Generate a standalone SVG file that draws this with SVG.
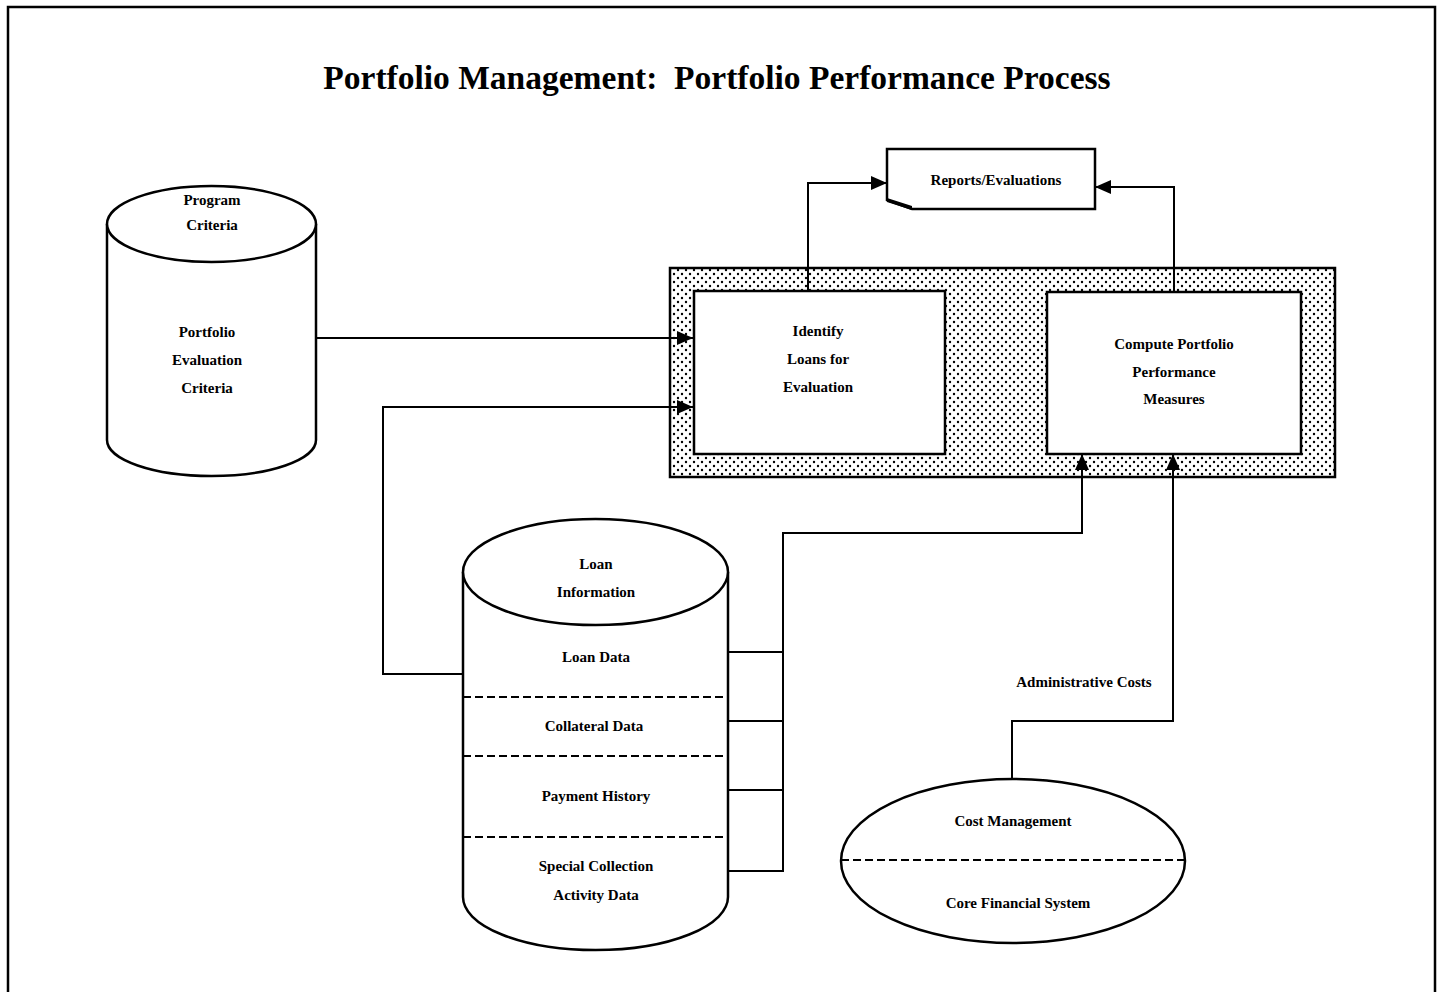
<svg xmlns="http://www.w3.org/2000/svg" width="1440" height="992" viewBox="0 0 1440 992">
<style>
text{font-family:"Liberation Serif","Times New Roman",serif;font-weight:bold;fill:#000;text-anchor:middle}
.t{font-size:15px}
.title{font-size:33.5px}
.sh{fill:#fff;stroke:#000;stroke-width:2.5}
.ln{fill:none;stroke:#000;stroke-width:2}
.dash{fill:none;stroke:#000;stroke-width:2;stroke-dasharray:8 4}
</style>
<defs>
<pattern id="dots" width="8" height="8" patternUnits="userSpaceOnUse">
<rect width="8" height="8" fill="#fff"/>
<circle cx="2" cy="2" r="1.2" fill="#000"/>
<circle cx="6" cy="6" r="1.2" fill="#000"/>
</pattern>
<marker id="arr" markerUnits="userSpaceOnUse" markerWidth="16" markerHeight="14" refX="16" refY="7" orient="auto">
<path d="M0,0 L16,7 L0,14 Z" fill="#000"/>
</marker>
</defs>
<rect x="0" y="0" width="1440" height="992" fill="#fff"/>
<rect x="8" y="7" width="1427" height="1000" fill="none" stroke="#000" stroke-width="2.5"/>
<text class="title" x="717" y="89">Portfolio Management:&#160; Portfolio Performance Process</text>

<g id="process-group">
<rect x="670" y="268" width="665" height="209" fill="url(#dots)" stroke="#000" stroke-width="2.5"/>
</g>

<g id="identify-loans">
<rect class="sh" x="694" y="291" width="251" height="163"/>
<text class="t" x="818" y="336">Identify</text>
<text class="t" x="818" y="364">Loans for</text>
<text class="t" x="818" y="392">Evaluation</text>
</g>

<g id="compute-performance">
<rect class="sh" x="1047" y="292" width="254" height="162"/>
<text class="t" x="1174" y="349">Compute Portfolio</text>
<text class="t" x="1174" y="377">Performance</text>
<text class="t" x="1174" y="404">Measures</text>
</g>

<g id="reports">
<path class="sh" d="M887,149 H1095 V209 H912 L887,200 Z"/>
<path d="M887,198 L912,206 L912,210 L887,202 Z" fill="#000"/>
<text class="t" x="996" y="185">Reports/Evaluations</text>
</g>

<g id="program-criteria">
<path class="sh" d="M107,224 V440 A104.5,36 0 0 0 316,440 V224"/>
<ellipse class="sh" cx="211.5" cy="224" rx="104.5" ry="38"/>
<text class="t" x="212" y="205">Program</text>
<text class="t" x="212" y="230">Criteria</text>
<text class="t" x="207" y="337">Portfolio</text>
<text class="t" x="207" y="365">Evaluation</text>
<text class="t" x="207" y="393">Criteria</text>
</g>

<g id="loan-information">
<path class="sh" d="M463,572 V897 A132.5,53 0 0 0 728,897 V572"/>
<ellipse class="sh" cx="595.5" cy="572" rx="132.5" ry="53"/>
<line class="dash" x1="463" y1="697" x2="728" y2="697"/>
<line class="dash" x1="463" y1="756" x2="728" y2="756"/>
<line class="dash" x1="463" y1="837" x2="728" y2="837"/>
<text class="t" x="596" y="569">Loan</text>
<text class="t" x="596" y="597">Information</text>
<text class="t" x="596" y="662">Loan Data</text>
<text class="t" x="594" y="731">Collateral Data</text>
<text class="t" x="596" y="801">Payment History</text>
<text class="t" x="596" y="871">Special Collection</text>
<text class="t" x="596" y="900">Activity Data</text>
</g>

<g id="cost-management">
<ellipse class="sh" cx="1013" cy="861" rx="172" ry="82"/>
<line class="dash" x1="841" y1="860" x2="1185" y2="860"/>
<text class="t" x="1013" y="826">Cost Management</text>
<text class="t" x="1018" y="908">Core Financial System</text>
</g>

<g id="connectors">
<line class="ln" x1="316" y1="338" x2="693" y2="338" marker-end="url(#arr)"/>
<polyline class="ln" points="463,674 383,674 383,407 693,407" marker-end="url(#arr)"/>
<polyline class="ln" points="808,291 808,183 887,183" marker-end="url(#arr)"/>
<polyline class="ln" points="1174,292 1174,187 1095,187" marker-end="url(#arr)"/>
<line class="ln" x1="728" y1="652" x2="783" y2="652" stroke-width="1.5"/>
<line class="ln" x1="728" y1="721" x2="783" y2="721"/>
<line class="ln" x1="728" y1="790" x2="783" y2="790"/>
<line class="ln" x1="728" y1="871" x2="783" y2="871"/>
<polyline class="ln" points="783,872 783,533 1082,533 1082,454" marker-end="url(#arr)"/>
<polyline class="ln" points="1012,779 1012,721 1173,721 1173,454" marker-end="url(#arr)"/>
<text class="t" x="1084" y="687">Administrative Costs</text>
</g>
</svg>
